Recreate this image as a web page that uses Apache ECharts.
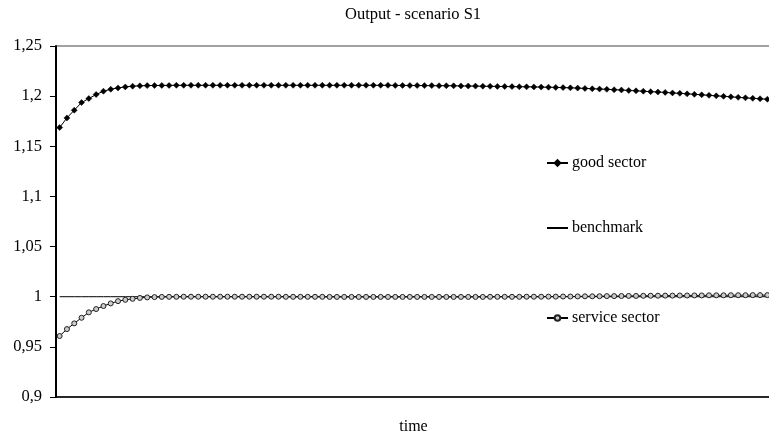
<!DOCTYPE html>
<html>
<head>
<meta charset="utf-8">
<script src="https://cdn.jsdelivr.net/npm/echarts@6/dist/echarts.min.js"></script>
<style>
  html, body { margin: 0; padding: 0; background: #fff; }
  #chart { width: 769px; height: 433px; }
</style>
</head>
<body>
<div id="chart"></div>
<script>
// Output paths for the two sectors against the benchmark level (= 1)
const goodSector = [
  1.1687, 1.1783, 1.1860, 1.1936, 1.1976, 1.2016, 1.2049, 1.2069, 1.2082, 1.2092,
  1.2099, 1.2103, 1.2105, 1.2106, 1.2107, 1.2107, 1.2108, 1.2108, 1.2108, 1.2108,
  1.2108, 1.2108, 1.2108, 1.2108, 1.2108, 1.2108, 1.2108, 1.2108, 1.2108, 1.2108,
  1.2108, 1.2108, 1.2108, 1.2108, 1.2108, 1.2108, 1.2108, 1.2108, 1.2108, 1.2108,
  1.2108, 1.2108, 1.2108, 1.2108, 1.2108, 1.2108, 1.2107, 1.2107, 1.2106, 1.2106,
  1.2105, 1.2105, 1.2104, 1.2104, 1.2103, 1.2102, 1.2101, 1.2100, 1.2099, 1.2098,
  1.2097, 1.2096, 1.2095, 1.2094, 1.2093, 1.2092, 1.2090, 1.2089, 1.2087, 1.2085,
  1.2083, 1.2080, 1.2077, 1.2074, 1.2071, 1.2068, 1.2064, 1.2061, 1.2057, 1.2053,
  1.2049, 1.2045, 1.2041, 1.2037, 1.2032, 1.2028, 1.2023, 1.2018, 1.2013, 1.2008,
  1.2003, 1.1998, 1.1993, 1.1988, 1.1983, 1.1978, 1.1974, 1.1969
];

const serviceSector = [
  0.9608, 0.9677, 0.9734, 0.9790, 0.9844, 0.9877, 0.9907, 0.9933, 0.9956, 0.9969,
  0.9979, 0.9988, 0.9993, 0.9996, 0.9998, 0.9999, 0.9999, 1.0000, 1.0000, 1.0000,
  1.0000, 1.0000, 1.0000, 1.0000, 1.0000, 1.0000, 1.0000, 1.0000, 1.0000, 1.0000,
  1.0000, 0.9999, 0.9999, 0.9999, 0.9999, 0.9999, 0.9999, 0.9998, 0.9998, 0.9998,
  0.9998, 0.9998, 0.9998, 0.9998, 0.9998, 0.9998, 0.9998, 0.9998, 0.9998, 0.9998,
  0.9998, 0.9998, 0.9998, 0.9998, 0.9998, 0.9998, 0.9998, 0.9998, 0.9998, 0.9999,
  0.9999, 0.9999, 0.9999, 0.9999, 1.0000, 1.0000, 1.0000, 1.0001, 1.0001, 1.0002,
  1.0002, 1.0003, 1.0004, 1.0004, 1.0005, 1.0006, 1.0006, 1.0007, 1.0008, 1.0008,
  1.0009, 1.0010, 1.0010, 1.0011, 1.0011, 1.0012, 1.0012, 1.0013, 1.0013, 1.0014,
  1.0014, 1.0014, 1.0015, 1.0015, 1.0015, 1.0016, 1.0016, 1.0016
];

const benchmark = goodSector.map(() => 1);
const periods = goodSector.map((_, i) => String(i + 1));

const yTicks = { min: 0.9, max: 1.25, step: 0.05 };

const serif = '"Liberation Serif", "DejaVu Serif", serif';

const chart = echarts.init(document.getElementById('chart'), null, { renderer: 'canvas' });

const legendBase = {
  orient: 'vertical',
  left: 546,
  padding: 0,
  itemWidth: 21,
  itemHeight: 7,
  itemGap: 0,
  textStyle: { fontFamily: serif, fontSize: 16, color: '#000', padding: [0, 0, 0, -1] },
  inactiveColor: '#000'
};

chart.setOption({
  animation: false,
  backgroundColor: '#fff',
  title: {
    text: 'Output - scenario S1',
    left: 345,
    top: 6,
    padding: 0,
    textStyle: { fontFamily: serif, fontSize: 16.5, fontWeight: 'normal', color: '#000' }
  },
  legend: [
    Object.assign({}, legendBase, { top: 155, data: ['good sector'] }),
    Object.assign({}, legendBase, {
      top: 220,
      data: [{ name: 'benchmark', itemStyle: { opacity: 0 } }]
    }),
    Object.assign({}, legendBase, { top: 310, data: ['service sector'] })
  ],
  grid: {
    left: 56,
    right: -2,
    top: 46,
    bottom: 36,
    outerBoundsMode: 'none',
    containLabel: false,
    show: true,
    borderColor: '#444',
    borderWidth: 1,
    backgroundColor: 'transparent'
  },
  xAxis: {
    type: 'category',
    data: periods,
    boundaryGap: true,
    name: 'time',
    nameLocation: 'middle',
    nameGap: 22,
    nameTextStyle: { fontFamily: serif, fontSize: 16, color: '#000' },
    axisLine: { lineStyle: { color: '#000', width: 1.5 } },
    axisTick: { show: false },
    axisLabel: { show: false },
    splitLine: { show: false }
  },
  yAxis: {
    type: 'value',
    min: yTicks.min,
    max: yTicks.max,
    interval: yTicks.step,
    axisLine: { show: true, lineStyle: { color: '#000', width: 2 } },
    axisTick: { show: true, inside: false, length: 6, lineStyle: { color: '#000', width: 1 } },
    axisLabel: {
      margin: 14,
      fontFamily: serif,
      fontSize: 16.5,
      color: '#000',
      formatter: v => String(+v.toFixed(2)).replace('.', ',')
    },
    splitLine: { show: false }
  },
  series: [
    {
      name: 'good sector',
      type: 'line',
      data: goodSector,
      symbol: 'diamond',
      symbolSize: 6,
      showAllSymbol: true,
      lineStyle: { color: '#000', width: 1 },
      itemStyle: { color: '#000', borderColor: '#000', borderWidth: 0.5 },
      z: 3
    },
    {
      name: 'benchmark',
      type: 'line',
      data: benchmark,
      symbol: 'none',
      lineStyle: { color: '#000', width: 1 },
      itemStyle: { color: '#000' },
      z: 2
    },
    {
      name: 'service sector',
      type: 'line',
      data: serviceSector,
      symbol: 'circle',
      symbolSize: 5,
      showAllSymbol: true,
      lineStyle: { color: '#000', width: 1 },
      itemStyle: { color: '#ccc', borderColor: '#222', borderWidth: 1 },
      z: 3
    }
  ]
});
</script>
</body>
</html>
